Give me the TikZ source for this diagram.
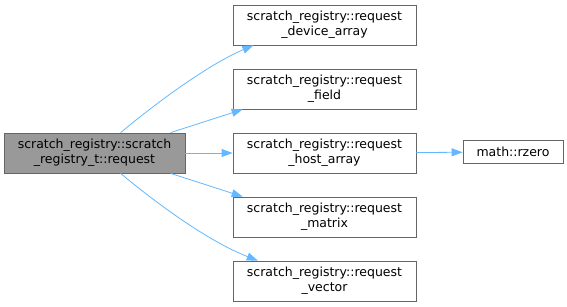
\documentclass[tikz,border=0pt]{standalone}
\usepackage{fontspec}
\setmainfont{DejaVu Sans}
\usetikzlibrary{arrows.meta,positioning}
\definecolor{edgeblue}{RGB}{99,184,255}
\definecolor{boxgray}{RGB}{153,153,153}
\definecolor{boxline}{RGB}{102,102,102}
\tikzset{fnbox/.style={draw=boxline, fill=white, line width=0.8pt, align=center,
    minimum width=183pt, minimum height=40pt, inner sep=0pt,
    font=\fontsize{12.5}{15}\selectfont}}
\tikzset{callarrow/.style={draw=edgeblue, line width=0.8pt, -{Triangle[length=11pt,width=8pt]}}}

\begin{document}
\begin{tikzpicture}[x=1pt,y=-1pt]

    \useasboundingbox (0,0) rectangle (567,307);

    % caller
    \node[fnbox, fill=boxgray, minimum width=181pt] (main) at (94.5,153)
        {scratch\_registry::scratch\\\_registry\_t::request};

    % callees
    \node[fnbox] (dev)    at (324.5,25)  {scratch\_registry::request\\\_device\_array};
    \node[fnbox] (field)  at (324.5,89)  {scratch\_registry::request\\\_field};
    \node[fnbox] (host)   at (324.5,153) {scratch\_registry::request\\\_host\_array};
    \node[fnbox] (matrix) at (324.5,217) {scratch\_registry::request\\\_matrix};
    \node[fnbox] (vector) at (324.5,281) {scratch\_registry::request\\\_vector};

    \node[fnbox, minimum width=100pt, minimum height=23pt] (rzero) at (513,152) {math::rzero};

    % calls
    \draw[callarrow] (main.38) .. controls (150,108) and (205,66) .. (dev.196.5);
    \draw[callarrow] (main.15) -- (field.194);
    \draw[callarrow] (main) -- (host);
    \draw[callarrow] (main.-15) -- (matrix.166);
    \draw[callarrow] (main.-38) .. controls (150,198) and (205,240) .. (vector.163.5);
    \draw[callarrow] (host) -- (rzero);

\end{tikzpicture}
\end{document}
